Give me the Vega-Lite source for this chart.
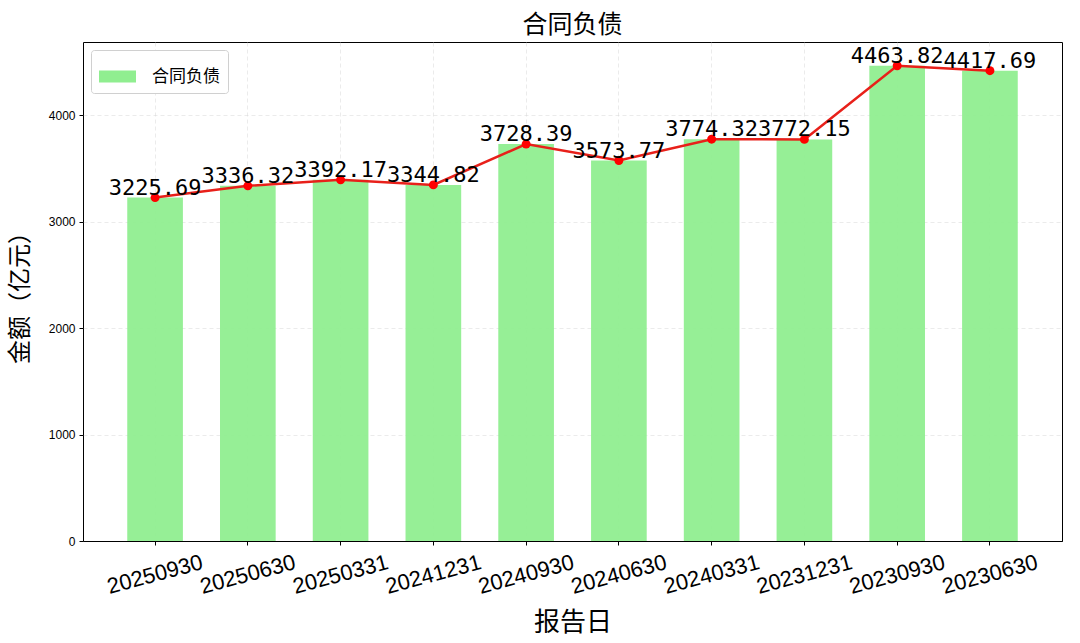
{
  "$schema": "https://vega.github.io/schema/vega-lite/v6.json",
  "width": 979,
  "height": 499,
  "autosize": {"type": "none"},
  "padding": {"left": 83, "top": 42, "right": 18, "bottom": 102},
  "background": "white",
  "title": {
    "text": "合同负债",
    "font": "Noto Sans CJK SC",
    "fontSize": 25,
    "fontWeight": "normal",
    "color": "black",
    "offset": 4
  },
  "config": {
    "view": {"stroke": "black", "strokeWidth": 1},
    "axis": {
      "grid": true,
      "gridDash": [4, 3],
      "gridColor": "#d8d8d8",
      "gridOpacity": 0.5,
      "domain": false,
      "tickColor": "black",
      "tickSize": 4,
      "labelColor": "black",
      "titleColor": "black",
      "titleFont": "Noto Sans CJK SC",
      "titleFontWeight": "normal"
    }
  },
  "data": {
    "values": [
      {"date": "20250930", "value": 3225.69},
      {"date": "20250630", "value": 3336.32},
      {"date": "20250331", "value": 3392.17},
      {"date": "20241231", "value": 3344.82},
      {"date": "20240930", "value": 3728.39},
      {"date": "20240630", "value": 3573.77},
      {"date": "20240331", "value": 3774.32},
      {"date": "20231231", "value": 3772.15},
      {"date": "20230930", "value": 4463.82},
      {"date": "20230630", "value": 4417.69}
    ]
  },
  "encoding": {
    "x": {
      "field": "date",
      "type": "nominal",
      "sort": null,
      "scale": {"paddingInner": 0.4, "paddingOuter": 0.477},
      "axis": {
        "title": "报告日",
        "titleFontSize": 26,
        "titlePadding": 12,
        "domain": true,
        "domainColor": "black",
        "labelAngle": -15,
        "labelAlign": "center",
        "labelBaseline": "middle",
        "labelFont": "Liberation Sans",
        "labelFontSize": 22,
        "labelPadding": 29
      }
    },
    "y": {
      "field": "value",
      "type": "quantitative",
      "scale": {"domain": [0, 4687], "nice": false},
      "axis": {
        "title": "金额（亿元）",
        "titleFontSize": 24,
        "titlePadding": 16,
        "format": "d",
        "values": [0, 1000, 2000, 3000, 4000],
        "labelFont": "Liberation Sans",
        "labelFontSize": 12,
        "labelPadding": 4
      }
    }
  },
  "layer": [
    {
      "mark": {"type": "bar", "opacity": 0.95},
      "encoding": {
        "color": {
          "datum": "合同负债",
          "type": "nominal",
          "scale": {"range": ["#90EE90"]},
          "legend": {
            "title": null,
            "orient": "top-left",
            "offset": 8,
            "padding": 8,
            "strokeColor": "#d0d0d0",
            "cornerRadius": 3,
            "fillColor": "white",
            "symbolType": "M-1,-0.324H1V0.324H-1Z",
            "symbolSize": 1369,
            "symbolStrokeWidth": 0,
            "symbolOpacity": 1,
            "labelFont": "Noto Sans CJK SC",
            "labelFontSize": 17,
            "labelColor": "black",
            "labelOffset": 16
          }
        }
      }
    },
    {
      "mark": {"type": "line", "color": "#e8201a", "strokeWidth": 2.5},
      "encoding": {}
    },
    {
      "mark": {"type": "point", "filled": true, "color": "red", "size": 80, "opacity": 1},
      "encoding": {}
    },
    {
      "mark": {"type": "text", "font": "DejaVu Sans Mono", "fontSize": 22, "baseline": "alphabetic", "align": "center", "dy": -3, "color": "black"},
      "encoding": {
        "text": {"field": "value", "type": "quantitative", "format": ".2f"}
      }
    }
  ]
}
